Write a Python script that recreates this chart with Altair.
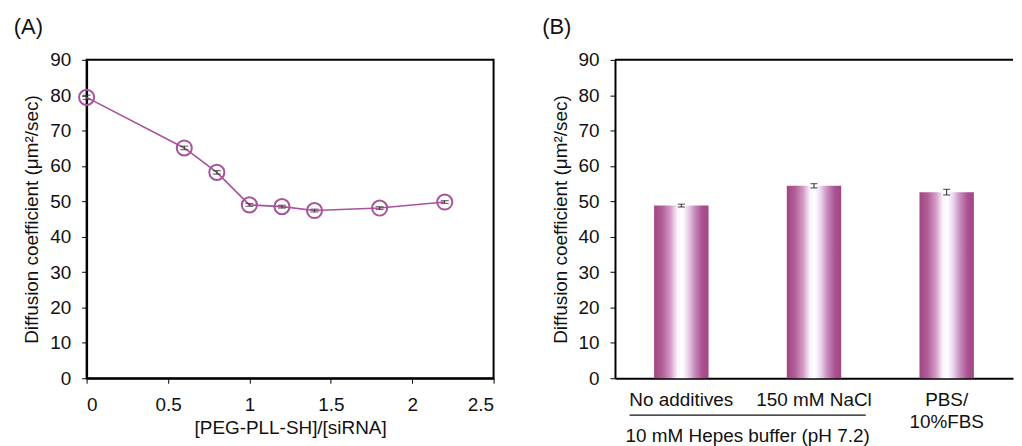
import altair as alt
import pandas as pd

# Panel A data
ratio = [0, 0.6, 0.8, 1.0, 1.2, 1.4, 1.8, 2.2]
diff_a = [79.4, 65.1, 58.2, 49.0, 48.5, 47.4, 48.1, 49.8]
err_a = [0.6, 0.5, 0.5, 0.4, 0.4, 0.4, 0.4, 0.4]
x_ticks_a = [0, 0.5, 1, 1.5, 2, 2.5]
y_ticks = [0, 10, 20, 30, 40, 50, 60, 70, 80, 90]

# Panel B data
conditions = ["No additives", "150 mM NaCl", "PBS/\n10%FBS"]
diff_b = [48.8, 54.4, 52.6]
err_b = [0.4, 0.6, 0.8]
group_label = "10 mM Hepes buffer (pH 7.2)"
# bracket under the first two categories (in band units: category i spans [i, i+1])
bracket_start = [0.11]
bracket_end = [1.89]
bracket_mid = [1.0]

FONT = "Liberation Sans"
PURPLE = "#a8529c"
YTITLE = "Diffusion coefficient (\u03bcm\u00b2/sec)"
FS = 19

y_axis = alt.Axis(values=y_ticks, title=YTITLE, titlePadding=8, labelOverlap=False,
                  tickCount=10, labelPadding=11)

dfa = pd.DataFrame({"ratio": ratio, "D": diff_a,
                    "lo": [d - e for d, e in zip(diff_a, err_a)],
                    "hi": [d + e for d, e in zip(diff_a, err_a)]})

yscale = alt.Scale(domain=[0, 90], nice=False)
xa = alt.X("ratio:Q", scale=alt.Scale(domain=[0, 2.5], nice=False),
           axis=alt.Axis(values=x_ticks_a, format="~g", title="[PEG-PLL-SH]/[siRNA]",
                         titlePadding=5, labelOverlap=False, labelPadding=12))
ya = alt.Y("D:Q", scale=yscale, axis=y_axis)

base_a = alt.Chart(dfa)
line_a = base_a.mark_line(color=PURPLE, strokeWidth=1.6).encode(x=xa, y=ya)
err_rule_a = base_a.mark_rule(color="#333333", strokeWidth=1).encode(
    x=xa, y=alt.Y("lo:Q", scale=yscale, axis=y_axis), y2="hi:Q")
cap_lo_a = base_a.mark_tick(color="#333333", size=8, thickness=1.2, orient="horizontal").encode(
    x=xa, y=alt.Y("lo:Q", scale=yscale, axis=y_axis))
cap_hi_a = base_a.mark_tick(color="#333333", size=8, thickness=1.2, orient="horizontal").encode(
    x=xa, y=alt.Y("hi:Q", scale=yscale, axis=y_axis))
pts_a = base_a.mark_point(shape="circle", size=230, strokeWidth=2, color=PURPLE,
                          filled=False, opacity=1).encode(x=xa, y=ya)

chart_a = alt.layer(line_a, err_rule_a, cap_lo_a, cap_hi_a, pts_a).properties(
    width=409, height=320,
    title=alt.TitleParams("(A)", anchor="start", fontSize=22,
                          font=FONT, fontWeight="normal", color="#111111", dx=-9, offset=12),
)

# Panel B
dfb = pd.DataFrame({"cond": conditions, "D": diff_b,
                    "lo": [d - e for d, e in zip(diff_b, err_b)],
                    "hi": [d + e for d, e in zip(diff_b, err_b)]})

band_scale = alt.Scale(domain=conditions, paddingInner=0, paddingOuter=0)
xb = alt.X("cond:N", scale=band_scale,
           axis=alt.Axis(title=None, labelAngle=0, ticks=False, labelPadding=12,
                         labelExpr="split(datum.label, '\\n')", labelLineHeight=22))
yb = alt.Y("D:Q", scale=yscale, axis=y_axis)

gradient = {
    "gradient": "linear", "x1": 0, "x2": 1, "y1": 0, "y2": 0,
    "stops": [
        {"offset": 0, "color": "#a0457f"},
        {"offset": 0.15, "color": "#b15f98"},
        {"offset": 0.3, "color": "#d49ac6"},
        {"offset": 0.43, "color": "#fbf5fb"},
        {"offset": 0.52, "color": "#ffffff"},
        {"offset": 0.62, "color": "#ead6ec"},
        {"offset": 0.75, "color": "#c58abb"},
        {"offset": 0.88, "color": "#ab5294"},
        {"offset": 1, "color": "#a0457f"},
    ],
}

base_b = alt.Chart(dfb)
bars = base_b.mark_bar(color=gradient, width=alt.RelativeBandSize(0.41)).encode(x=xb, y=yb)
err_rule_b = base_b.mark_rule(color="#222222", strokeWidth=1).encode(
    x=xb, y=alt.Y("lo:Q", scale=yscale, axis=y_axis), y2="hi:Q")
cap_lo_b = base_b.mark_tick(color="#222222", size=7, thickness=1.2, orient="horizontal").encode(
    x=xb, y=alt.Y("lo:Q", scale=yscale, axis=y_axis))
cap_hi_b = base_b.mark_tick(color="#222222", size=7, thickness=1.2, orient="horizontal").encode(
    x=xb, y=alt.Y("hi:Q", scale=yscale, axis=y_axis))
top_line = alt.Chart(pd.DataFrame({"y": [90]})).mark_rule(color="black", strokeWidth=2).encode(
    y=alt.Y("y:Q", scale=yscale, axis=y_axis))
main_b = alt.layer(bars, err_rule_b, cap_lo_b, cap_hi_b, top_line)

bracket_df = pd.DataFrame({"start": bracket_start, "end": bracket_end, "mid": bracket_mid,
                           "label": [group_label]})
ann_scale = alt.Scale(domain=[0, len(conditions)], nice=False, zero=False)
bracket = alt.Chart(bracket_df).mark_rule(color="#111111", strokeWidth=1.2).encode(
    x=alt.X("start:Q", scale=ann_scale, axis=None),
    x2="end:Q",
    y=alt.value(357),
)
bracket_text = alt.Chart(bracket_df).mark_text(font=FONT, fontSize=FS, color="#111111",
                                               baseline="top", align="center").encode(
    x=alt.X("mid:Q", scale=ann_scale, axis=None),
    y=alt.value(369),
    text="label:N",
)
ann_b = alt.layer(bracket, bracket_text)

chart_b = alt.layer(main_b, ann_b).resolve_scale(x="independent").properties(
    width=400, height=320,
    view=alt.ViewBackground(strokeOpacity=0),
    title=alt.TitleParams("(B)", anchor="start", fontSize=22,
                          font=FONT, fontWeight="normal", color="#111111", dx=-9, offset=12),
)

chart = alt.hconcat(chart_a, chart_b, spacing=46).properties(
    padding={"left": 4, "top": 6, "right": 0, "bottom": 0},
    background="white",
).configure_view(
    stroke="black", strokeWidth=2,
).configure_axis(
    grid=False, domainColor="black", domainWidth=2, tickColor="black", tickSize=5,
    labelFont=FONT, labelFontSize=FS, labelColor="#111111",
    titleFont=FONT, titleFontSize=FS, titleFontWeight="normal", titleColor="#111111",
)

chart.save("out.html", embed_options={"renderer": "svg", "actions": False})
